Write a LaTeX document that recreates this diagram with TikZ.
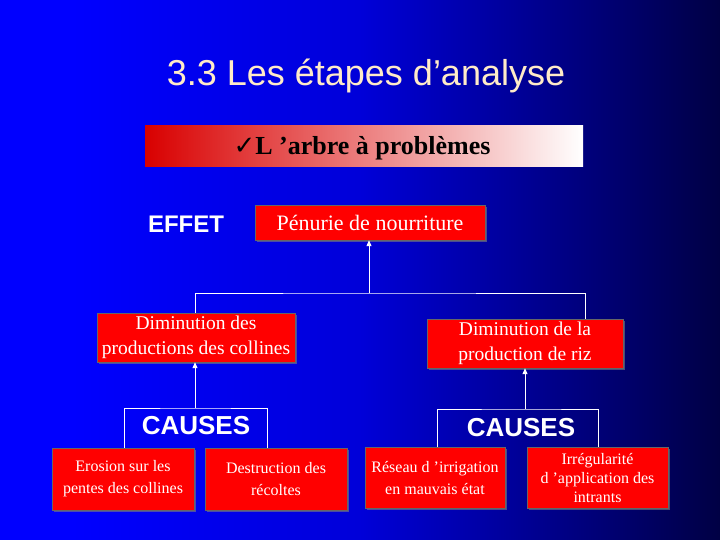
\documentclass[tikz,border=0pt]{standalone}
\usepackage{fontspec}
\setmainfont{Liberation Serif}
\setsansfont{Liberation Sans}
\newfontfamily\djvfont{DejaVu Sans}
\usetikzlibrary{arrows.meta,shadows}
\pgfdeclarehorizontalshading{bg}{100bp}{color(0bp)=(blue);color(20bp)=(blue);color(40bp)=(blue!85!black);color(55bp)=(blue!50!black);color(70bp)=(blue!15!black);color(80bp)=(black)}
\tikzset{
 rbox/.style={draw=black!60,fill=red,text=white,align=center,inner sep=0pt,font=\fontsize{19.5}{25}\selectfont,drop shadow={shadow xshift=2pt,shadow yshift=-2pt,opacity=.6}},
 sbox/.style={rbox,font=\fontsize{16}{22}\selectfont},
 wl/.style={white,line width=1pt},
 arr/.style={wl,-{Triangle[width=5pt,length=6pt]}},
 cz/.style={text=white,font=\sffamily\bfseries\fontsize{26}{28}\selectfont}
}
\begin{document}
\begin{tikzpicture}[x=1pt,y=-1pt]
\useasboundingbox (0,0) rectangle (720,540);
\shade[shading=bg] (0,0) rectangle (720,540);
\node (title) [text={rgb,255:red,255;green,235;blue,200},font=\sffamily\fontsize{36}{38}\selectfont] at (366,76) {3.3 Les étapes d’analyse};
\shade[left color=red!85!black,right color=white] (145,126) rectangle (583,167);
\node (arbre) [font=\bfseries\fontsize{26}{28}\selectfont] at (362,148) {{\djvfont\mdseries ✓}L ’arbre à problèmes};
\node (effet) [cz,font=\sffamily\bfseries\fontsize{24}{26}\selectfont] at (186,224) {EFFET};
\node (pen) [rbox,minimum width=230,minimum height=35,font=\fontsize{22}{24}\selectfont] at (370,222.5) {Pénurie de nourriture};
\node (dl) [rbox,minimum width=198,minimum height=49] at (196,337.5) {Diminution des\\productions des collines};
\node (dr) [rbox,minimum width=196,minimum height=49] at (525,343.5) {Diminution de la\\production de riz};
\node (cl) [cz] at (196,426) {CAUSES};
\node (cr) [cz] at (521,428) {CAUSES};
\node (b1) [sbox,minimum width=142,minimum height=62] at (123,479) {Erosion sur les\\pentes des collines};
\node (b2) [sbox,minimum width=142,minimum height=62] at (276,479) {Destruction des\\récoltes};
\node (b3) [sbox,minimum width=140,minimum height=61,anchor=north] at (435,447) {Réseau d ’irrigation\\en mauvais état};
\node (b4) [sbox,minimum width=141,minimum height=61,anchor=north,font=\fontsize{16}{19}\selectfont] at (597.5,447) {Irrégularité\\d ’application des\\intrants};
\coordinate (j) at (369,293);
\draw[arr] (j) -- (pen.south -| j);
\draw[wl] (dl.north -| 195,0) |- (j) -| (dr.north -| 585,0);
\coordinate (lc) at (195,408);
\coordinate (rc) at (525,409);
\draw[arr] (lc) -- (dl.south -| lc);
\draw[arr] (rc) -- (dr.south -| rc);
\draw[wl] (b1.north -| 124,0) |- (lc) -| (b2.north -| 267,0);
\draw[wl] (b3.north -| 437,0) |- (rc) -| (b4.north -| 598,0);
\end{tikzpicture}
\end{document}
